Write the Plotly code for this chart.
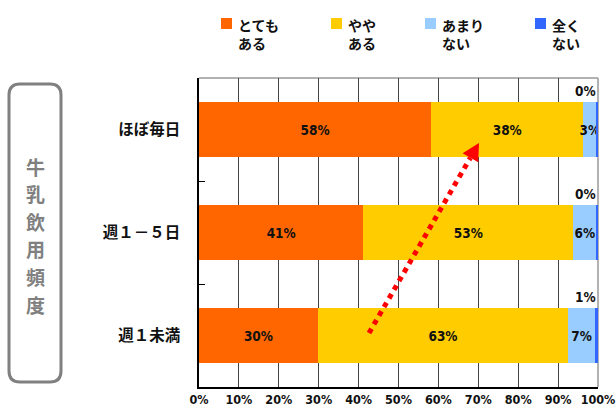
import plotly.graph_objects as go

categories = ["ほぼ毎日", "週１－５日", "週１未満"]
series_names = ["とても<br>ある", "やや<br>ある", "あまり<br>ない", "全く<br>ない"]
colors = ["#FF6600", "#FFCC00", "#99CCFF", "#3366FF"]
v_totemo = [58.2, 41.2, 29.8]
v_yaya = [38.1, 52.6, 62.7]
v_amari = [3.3, 5.8, 6.8]
v_mattaku = [0.4, 0.4, 0.7]
x_ticks = [0, 10, 20, 30, 40, 50, 60, 70, 80, 90, 100]
x_ticktext = [f"{t}%" for t in x_ticks]
title_text = "牛乳飲用頻度"

W, H = 616, 416
L, R, T, B = 199, 18, 78, 29
PW, PH = W - L - R, H - T - B


def px(x):
    return (x - L) / PW


def py(y):
    return (H - B - y) / PH


NUM_FAMILY = "DejaVu Sans Condensed, Liberation Sans Narrow, Liberation Sans"
NUM_FONT = dict(family=NUM_FAMILY, size=13.5, color="#111", weight="bold")
JP_FONT = "Noto Sans CJK JP"

fig = go.Figure()
all_vals = [v_totemo, v_yaya, v_amari, v_mattaku]
for i, (name, vals) in enumerate(zip(series_names, all_vals)):
    show_text = i < 3
    fig.add_trace(go.Bar(
        y=categories, x=vals, name=name, orientation="h",
        marker=dict(color=colors[i], line=dict(width=0)),
        width=0.535,
        text=[f"{v:.0f}%" for v in vals] if show_text else None,
        textposition="inside" if show_text else "none",
        insidetextanchor="middle",
        constraintext="none",
        textangle=0,
        textfont=NUM_FONT,
        hoverinfo="skip",
        showlegend=False,
    ))

annotations = []
# small values above bars
for c, v in zip(categories, v_mattaku):
    annotations.append(dict(x=100, y=c, xref="x", yref="y", text=f"{v:.0f}%",
                            showarrow=False, xanchor="right", yanchor="middle",
                            yshift=39, xshift=0, font=NUM_FONT))

# manual legend
legend_x = [221, 331, 425, 535]
shapes = []
for lx, name, col in zip(legend_x, series_names, colors):
    shapes.append(dict(type="rect", xref="paper", yref="paper",
                       x0=px(lx), x1=px(lx + 11), y0=py(29), y1=py(18),
                       fillcolor=col, line=dict(width=0)))
    annotations.append(dict(x=px(lx + 15), y=py(13), xref="paper", yref="paper",
                            text=name, showarrow=False, xanchor="left", yanchor="top",
                            align="left",
                            font=dict(family=JP_FONT, size=14, color="#111", weight="bold")))

# vertical title in rounded box
x0b, x1b, y0b, y1b, r = 9, 61, 84, 382, 11
path = (f"M {px(x0b + r)},{py(y0b)} L {px(x1b - r)},{py(y0b)} "
        f"Q {px(x1b)},{py(y0b)} {px(x1b)},{py(y0b + r)} "
        f"L {px(x1b)},{py(y1b - r)} Q {px(x1b)},{py(y1b)} {px(x1b - r)},{py(y1b)} "
        f"L {px(x0b + r)},{py(y1b)} Q {px(x0b)},{py(y1b)} {px(x0b)},{py(y1b - r)} "
        f"L {px(x0b)},{py(y0b + r)} Q {px(x0b)},{py(y0b)} {px(x0b + r)},{py(y0b)} Z")
shapes.append(dict(type="path", xref="paper", yref="paper", path=path,
                   line=dict(color="#808080", width=3)))
for k, ch in enumerate(title_text):
    annotations.append(dict(x=px(35), y=py(166 + 27.6 * k), xref="paper", yref="paper",
                            text=ch, showarrow=False,
                            xanchor="center", yanchor="middle",
                            font=dict(family=JP_FONT, size=19, color="#808080",
                                      weight="bold")))

# frame (top / right gray)
shapes.append(dict(type="line", xref="paper", yref="paper", x0=0, x1=1, y0=1, y1=1,
                   line=dict(color="#999999", width=1.5), layer="between"))
shapes.append(dict(type="line", xref="paper", yref="paper", x0=1, x1=1, y0=0, y1=1,
                   line=dict(color="#999999", width=1.5), layer="between"))

# red dotted arrow
sx, sy = 369, 333
tx, ty = 479, 143
bx, by = 470.4, 157.7
shapes.append(dict(type="line", xref="paper", yref="paper",
                   x0=px(sx), y0=py(sy), x1=px(bx), y1=py(by),
                   line=dict(color="#FF0000", width=5, dash="dot"), layer="above"))
shapes.append(dict(type="path", xref="paper", yref="paper",
                   path=f"M {px(tx)},{py(ty)} L {px(478.2)},{py(162.2)} L {px(462.6)},{py(153.2)} Z",
                   fillcolor="#FF0000", line=dict(width=0), layer="above"))

fig.update_layout(
    barmode="stack",
    width=W, height=H,
    margin=dict(l=L, r=R, t=T, b=B, autoexpand=False),
    paper_bgcolor="white", plot_bgcolor="white",
    shapes=shapes, annotations=annotations,
    showlegend=False,
    xaxis=dict(range=[0, 100], tickvals=x_ticks, ticktext=x_ticktext,
               showgrid=True, gridcolor="#444444", gridwidth=1,
               showline=True, linecolor="black", linewidth=1.5,
               ticks="", zeroline=False, fixedrange=True, automargin=False,
               ticklabeloverflow="allow",
               tickfont=dict(family=NUM_FAMILY, size=12.5, color="#111", weight="bold")),
    yaxis=dict(autorange="reversed", showgrid=False, automargin=False,
               showline=True, linecolor="black", linewidth=1.5,
               ticks="inside", tickson="boundaries", ticklen=6, tickcolor="black",
               ticklabelstandoff=14,
               tickfont=dict(family=JP_FONT, size=15.5, color="#111", weight="bold")),
)

fig.write_html("out.html")
